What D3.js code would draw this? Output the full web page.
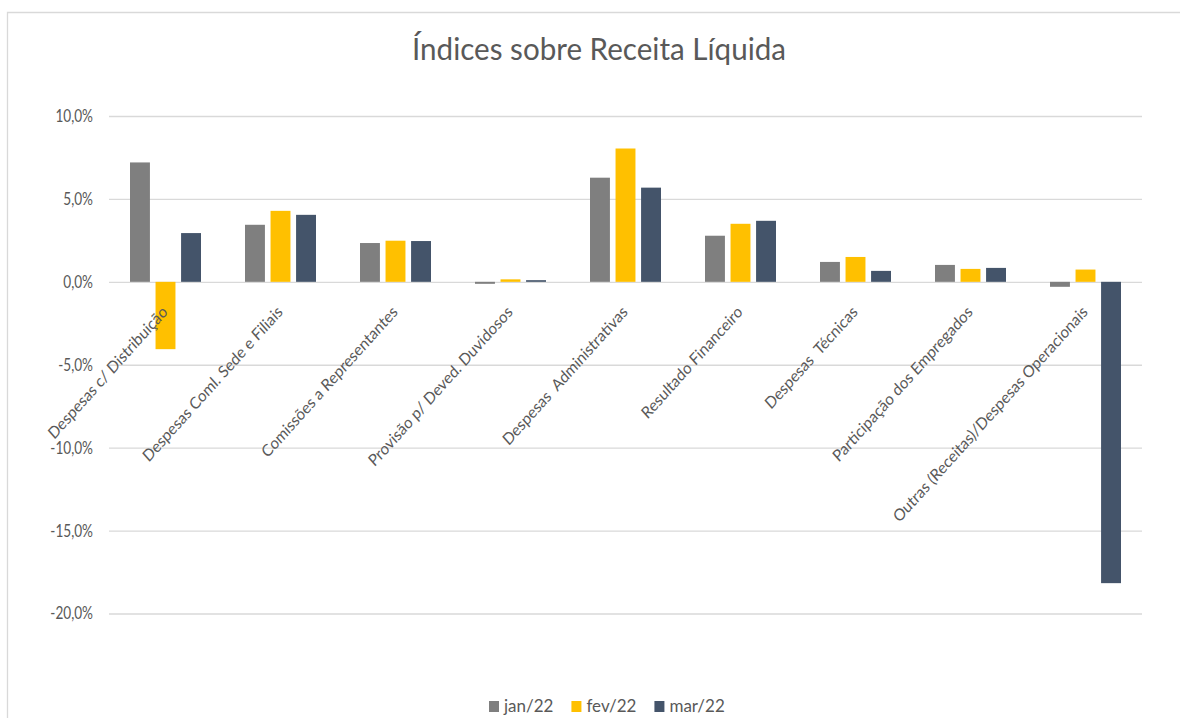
<!DOCTYPE html>
<html><head><meta charset="utf-8">
<script src="https://cdn.jsdelivr.net/npm/d3@7"></script>
<style>
body{margin:0;background:#fff}
svg text{font-family:Lato,"Open Sans",sans-serif;fill:#595959}
</style>
</head><body><svg id="c" width="1180" height="718"></svg>
<script>
const title = "Índices sobre Receita Líquida";
const categories = [
  "Despesas c/ Distribuição",
  "Despesas Coml. Sede e Filiais",
  "Comissões a Representantes",
  "Provisão p/ Deved. Duvidosos",
  "Despesas  Administrativas",
  "Resultado Financeiro",
  "Despesas  Técnicas",
  "Participação dos Empregados",
  "Outras (Receitas)/Despesas Operacionais"
];
const seriesNames = ["jan/22", "fev/22", "mar/22"];
const jan = [7.2, 3.44, 2.34, -0.12, 6.28, 2.78, 1.2, 1.02, -0.3];
const fev = [-4.06, 4.28, 2.48, 0.15, 8.04, 3.5, 1.5, 0.78, 0.74];
const mar = [2.94, 4.04, 2.46, 0.1, 5.68, 3.68, 0.66, 0.84, -18.17];
const yTicks = [10, 5, 0, -5, -10, -15, -20];
const colors = ["#7f7f7f", "#ffc000", "#44546a"];

const seriesValues = [jan, fev, mar];
const svg = d3.select("#c");

// frame
svg.append("path").attr("d", "M7.5,718V12.5H1180").attr("fill", "none")
  .attr("stroke", "#d9d9d9").attr("stroke-width", 1.3);

// title
svg.append("text").attr("x", 599).attr("y", 60).attr("text-anchor", "middle")
  .attr("font-size", 30).attr("textLength", 374).attr("lengthAdjust", "spacingAndGlyphs")
  .text(title);

const y = d3.scaleLinear().domain([-20, 10]).range([613.5, 116]);
const x = d3.scaleBand().domain(categories).range([108, 1143]);
const xs = d3.scaleBand().domain(seriesNames).range([22, 93]).paddingInner(0.22);

const loc = d3.formatLocale({decimal: ",", thousands: ".", grouping: [3], currency: ["R$", ""], minus: "-"});
const f1 = loc.format(".1f");

// grid
const grid = svg.append("g").attr("transform", "translate(109,0)")
  .call(d3.axisRight(y).tickValues(yTicks).tickSize(1033).tickFormat(""));
grid.select(".domain").remove();
grid.selectAll("line").attr("stroke", "#d9d9d9").attr("stroke-width", 1.3);

// y labels
const ya = svg.append("g").attr("transform", "translate(93,0)")
  .call(d3.axisLeft(y).tickValues(yTicks).tickSize(0).tickPadding(0).tickFormat(d => f1(d) + "%"));
ya.select(".domain").remove();
ya.selectAll("text").attr("font-size", 17).attr("fill", "#595959")
  .attr("font-family", null).attr("transform", "scale(0.8,1)");

// bars
const groups = svg.append("g").selectAll("g").data(categories).join("g")
  .attr("transform", c => `translate(${x(c)},0)`);
groups.selectAll("rect").data((c, i) => seriesNames.map((s, k) => ({s, v: seriesValues[k][i], k})))
  .join("rect")
  .attr("x", d => xs(d.s))
  .attr("width", xs.bandwidth())
  .attr("y", d => y(Math.max(0, d.v)))
  .attr("height", d => Math.abs(y(d.v) - y(0)))
  .attr("fill", d => colors[d.k]);

// category labels
svg.append("g").selectAll("text").data(categories).join("text")
  .attr("transform", c => `translate(${x(c) + x.bandwidth() / 2 + 3},313) scale(0.9,1) rotate(-45)`)
  .attr("text-anchor", "end")
  .attr("font-size", 16.5)
  .style("white-space", "pre")
  .text(c => c);

// legend
const lg = svg.append("g").attr("transform", "translate(489,0)");
let lx = 0;
seriesNames.forEach((s, k) => {
  lg.append("rect").attr("x", lx).attr("y", 701).attr("width", 10).attr("height", 11).attr("fill", colors[k]);
  const t = lg.append("text").attr("x", lx + 15).attr("y", 712).attr("font-size", 17).text(s);
  lx += 15 + t.node().getComputedTextLength() + 18;
});
</script>
</body></html>
